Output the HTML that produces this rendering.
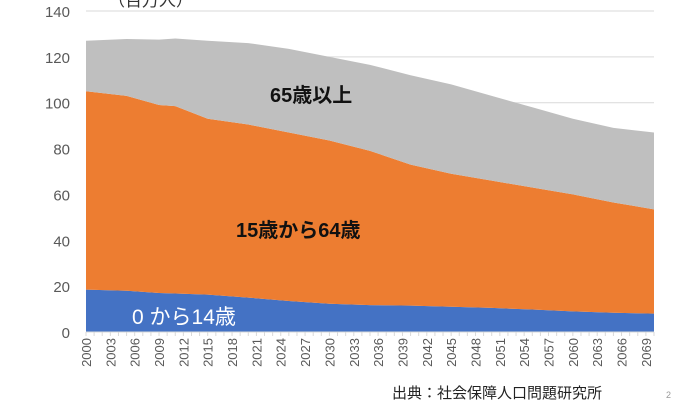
<!DOCTYPE html>
<html><head><meta charset="utf-8"><style>
body{margin:0;background:#fff;}
svg text{font-family:"Liberation Sans","Noto Sans CJK JP",sans-serif;}
</style></head><body>
<svg id="chart" width="700" height="400" xmlns="http://www.w3.org/2000/svg">
<g id="grid"></g>
<g id="areas"></g>
<g id="yaxis"></g>
<g id="xaxis"></g>
<text x="108" y="6" font-size="17" fill="#333">（百万人）</text>
<text x="270" y="102" font-size="20" font-weight="bold" fill="#111">65歳以上</text>
<text x="236" y="237" font-size="20" font-weight="bold" fill="#111">15歳から64歳</text>
<text x="132" y="324" font-size="21" fill="#fff">0 から14歳</text>
<text x="392" y="398" font-size="15" fill="#222">出典：社会保障人口問題研究所</text>
<text x="666" y="398" font-size="9" fill="#999">2</text>
</svg>
<script>
const years=[2000,2005,2009,2011,2015,2020,2025,2030,2035,2040,2045,2050,2055,2060,2065,2070];
const young=[18.5,18,17,16.8,16.3,15,13.5,12.3,11.7,11.5,11,10.5,9.8,9,8.4,8];
const working=[86.5,85,82,81.7,76.7,75.5,73.5,71.2,67.3,61.5,58,55.5,53.2,51,48.1,45.5];
const elderly=[22,24.8,28.5,29.5,34,35.5,36.5,36.5,37.5,39,39,37,35,33,32.5,33.5];
const yTicks=[0,20,40,60,80,100,120,140];
const xTickYears=[2000,2003,2006,2009,2012,2015,2018,2021,2024,2027,2030,2033,2036,2039,2042,2045,2048,2051,2054,2057,2060,2063,2066,2069];
const NS="http://www.w3.org/2000/svg";
const x0=86,x1=654,y0=332,yTop=11;
const xs=y=>x0+(y-2000)/70*(x1-x0);
const ys=v=>y0-v/140*(y0-yTop);
function mk(t,a,p){const e=document.createElementNS(NS,t);for(const k in a)e.setAttribute(k,a[k]);p.appendChild(e);return e;}
const grid=document.getElementById('grid'),yax=document.getElementById('yaxis'),xax=document.getElementById('xaxis'),areas=document.getElementById('areas');
yTicks.forEach(v=>{
 const l=mk('line',{x1:x0,x2:x1,y1:ys(v),y2:ys(v),stroke:'#d9d9d9','stroke-width':1},grid);
 
 
 const t=mk('text',{x:70,y:ys(v)+6,'text-anchor':'end','font-size':15,fill:'#595959'},yax);
 t.textContent=v;
 
 
});
const series=[young,working,elderly],colors=['#4472c4','#ed7d31','#bfbfbf'],names=['area-0-14','area-15-64','area-65-plus'];
let base=years.map(()=>0);
series.forEach((s,i)=>{
 const top=base.map((b,j)=>b+s[j]);
 let d='M'+years.map((y,j)=>xs(y)+','+ys(top[j])).join(' L');
 for(let j=years.length-1;j>=0;j--)d+=' L'+xs(years[j])+','+ys(base[j]);
 const p=mk('path',{d:d+'Z',fill:colors[i]},areas);
 
 
 base=top;
});
mk('line',{x1:x0,x2:x1,y1:y0,y2:y0,stroke:'#d9d9d9'},xax);
for(let y=2000;y<=2070;y++){mk('line',{x1:xs(y),x2:xs(y),y1:y0,y2:y0+4,stroke:'#d9d9d9'},xax);}
xTickYears.forEach(y=>{
 const t=mk('text',{transform:`translate(${xs(y)+5},${y0+6}) rotate(-90)`,'text-anchor':'end','font-size':13,fill:'#595959'},xax);
 t.textContent=y;
 
 
});
</script>
</body></html>
